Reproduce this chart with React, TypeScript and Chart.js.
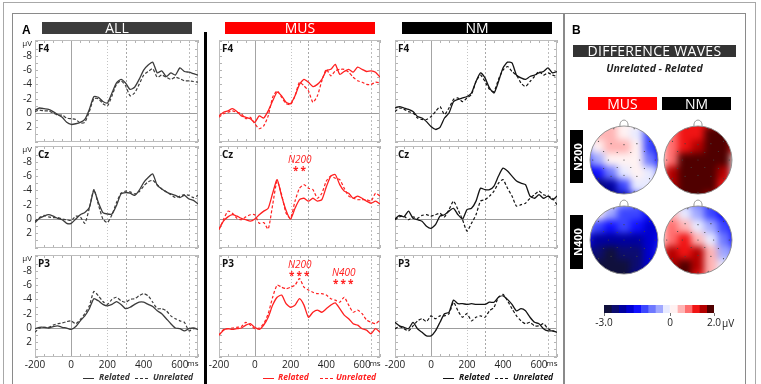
import React, { useEffect, useRef } from "react";
import { Chart, registerables } from "chart.js";
Chart.register(...registerables);

const FONT = "'Open Sans', 'DejaVu Sans', sans-serif";

// ---------- DATA ----------
const timeMs = [-200, -175, -150, -125, -100, -75, -50, -25, 0, 25, 50, 75, 100, 125, 150, 175, 200, 225, 250, 275, 300, 325, 350, 375, 400, 425, 450, 475, 500, 525, 550, 575, 600, 625, 650, 675, 700];

const allF4Related = [-0.4, -0.7, -0.6, -0.5, -0.2, 0.2, 0.6, 1.3, 1.6, 1.5, 1.3, 0.9, -0.5, -2.3, -2.2, -1.6, -1.4, -2.8, -4.2, -4.7, -4.2, -3.3, -3.6, -4.7, -6.0, -6.7, -7.1, -5.6, -5.9, -5.1, -5.6, -5.3, -6.3, -5.8, -5.7, -5.5, -5.3];
const allF4Unrelated = [-0.2, -0.4, -0.3, -0.3, 0, 0.3, 0.3, 0.7, 0.8, 0.9, 1.4, 1.3, -0.2, -2.0, -2.0, -1.3, -1.0, -2.4, -4.0, -4.5, -3.8, -2.4, -2.8, -4.0, -5.3, -5.8, -6.2, -5.0, -5.3, -5.0, -4.7, -5.0, -4.8, -4.5, -4.5, -4.4, -4.3];
const allCzRelated = [0.5, -0.1, -0.4, -0.6, -0.4, -0.1, 0.1, 0.6, 0.6, 0, -0.6, -0.9, -1.6, -4.0, -2.3, -0.9, -0.7, -0.7, -1.9, -3.5, -3.7, -3.6, -3.3, -4.0, -5.1, -5.8, -6.3, -4.7, -4.2, -3.8, -3.5, -3.3, -3.0, -3.3, -2.8, -2.6, -2.1];
const allCzUnrelated = [0.3, -0.2, -0.5, -0.3, -0.2, -0.2, 0, 0.1, 0.2, -0.4, -0.3, 0.6, -1.5, -4.1, -2.0, 0.0, 0.5, -0.6, -2.3, -3.6, -3.9, -3.8, -3.5, -3.8, -4.6, -5.2, -5.4, -4.8, -4.2, -3.8, -3.4, -3.0, -3.2, -3.4, -3.3, -3.0, -3.3];
const allP3Related = [0.1, -0.1, -0.1, 0, -0.2, -0.3, -0.1, 0, 0.2, -0.2, -1.0, -1.7, -2.7, -4.1, -3.8, -3.3, -3.1, -3.3, -3.7, -3.3, -2.7, -2.9, -3.3, -3.6, -3.6, -3.3, -3.0, -2.4, -2.0, -1.3, -0.6, 0, 0.1, 0.4, 0.1, 0, 0.2];
const allP3Unrelated = [0.6, 0, -0.1, -0.1, -0.4, -0.6, -0.7, -0.9, -1.0, -0.6, -1.2, -2.0, -3.1, -5.1, -4.5, -3.7, -3.3, -4.0, -4.3, -3.8, -3.6, -4.0, -4.1, -4.5, -4.8, -4.5, -3.6, -2.7, -2.7, -2.4, -1.7, -1.3, -1.0, -0.8, 0.4, 0.1, 0];

const musF4Related = [0.4, -0.1, -0.3, -0.6, -0.2, 0.4, 0.6, 0.8, 1.3, 0.4, 0.7, -0.3, -1.7, -2.9, -2.4, -1.5, -1.3, -2.4, -4.0, -4.7, -4.3, -3.7, -4.0, -4.7, -5.9, -6.1, -6.8, -5.4, -5.8, -6.1, -5.7, -6.4, -6.1, -5.8, -5.9, -5.7, -5.0];
const musF4Unrelated = [0.6, 0.1, -0.1, -0.3, -0.1, 0.1, 0.8, 0.6, 1.5, 2.2, 1.8, 0.4, -2.2, -3.1, -2.2, -1.3, -1.2, -2.4, -4.3, -3.8, -3.1, -1.5, -2.4, -4.5, -6.1, -5.2, -5.9, -6.1, -6.1, -5.7, -5.0, -4.5, -4.3, -4.0, -4.0, -4.3, -4.2];
const musCzRelated = [1.4, 0.3, -0.3, -0.6, -0.4, -0.1, 0.1, 0.3, 0, -0.6, -1.1, -1.5, -3.6, -5.5, -3.2, -1.2, 0, -1.5, -2.7, -2.9, -2.5, -2.9, -2.5, -2.7, -4.5, -6.0, -6.2, -4.8, -3.9, -3.6, -2.9, -3.2, -2.9, -2.5, -2.2, -2.5, -2.1];
const musCzUnrelated = [1.5, 0.1, -1.1, -0.8, -0.1, 0.1, -0.3, -0.6, -0.6, 0.6, 0.5, 1.4, -2.0, -5.3, -3.4, -0.8, -0.1, -2.5, -4.3, -4.8, -4.3, -4.1, -2.9, -3.6, -5.3, -6.0, -5.7, -5.5, -4.3, -3.2, -2.9, -2.7, -2.7, -2.7, -2.5, -3.6, -3.2];
const musP3Related = [1.0, 0.3, 0.1, 0.2, 0.1, 0, -0.4, -0.6, -0.1, 0.2, -0.4, -1.5, -3.2, -4.3, -4.6, -3.4, -2.9, -3.2, -4.1, -3.2, -1.5, -2.2, -2.5, -2.2, -2.7, -3.2, -3.5, -2.7, -1.8, -1.3, -0.6, -0.4, 0.1, 0.3, 0.8, 0.1, 0.6];
const musP3Unrelated = [1.0, 0.2, 0.1, 0, -0.1, -0.2, -0.8, -0.4, 0.1, 0, -0.6, -2.0, -4.3, -6.0, -5.7, -5.5, -5.7, -6.0, -6.9, -5.7, -5.3, -5.0, -4.8, -4.8, -4.6, -4.1, -3.9, -3.6, -4.3, -3.2, -2.2, -2.5, -2.0, -1.1, -0.8, -0.6, -1.1];

const nmF4Related = [-0.7, -0.9, -0.7, -0.5, -0.2, 0.5, 0.7, 1.2, 1.9, 2.3, 2.0, 0.7, 0, -1.6, -1.9, -2.1, -2.3, -2.8, -4.4, -5.6, -4.9, -3.5, -2.8, -4.4, -6.3, -7.1, -7.0, -5.3, -4.9, -4.7, -5.1, -5.3, -5.6, -5.8, -6.3, -5.6, -5.8];
const nmF4Unrelated = [-0.2, -0.7, -0.5, -0.2, 0, 0.7, 0.9, 0.9, 0.5, -0.2, -0.9, 0.2, -0.7, -1.9, -2.1, -1.6, -2.1, -2.6, -4.4, -5.3, -4.4, -3.3, -3.0, -4.7, -6.0, -6.5, -5.8, -5.3, -4.2, -3.7, -4.4, -5.1, -5.8, -5.3, -5.6, -5.3, -5.1];
const nmCzRelated = [0, -0.5, -0.3, -1.1, -0.1, 0.1, 0.3, 1.0, 1.3, 0.8, -0.4, -0.6, -1.1, -1.5, -0.6, 0, -1.3, -1.5, -2.5, -4.3, -4.1, -4.1, -4.6, -6.0, -7.1, -6.7, -6.0, -5.3, -5.0, -4.8, -3.2, -2.9, -3.4, -2.9, -3.2, -2.7, -3.2];
const nmCzUnrelated = [0.1, -0.3, -0.4, 0.1, -0.3, -0.1, -0.5, -0.6, -0.4, -0.6, -0.8, -0.3, -1.3, -2.5, -1.3, 0.1, 1.7, 0.6, -0.6, -2.5, -2.7, -3.2, -3.9, -5.0, -5.5, -4.3, -3.2, -1.8, -2.0, -2.2, -2.9, -3.4, -3.9, -3.4, -3.2, -2.9, -2.0];
const nmP3Related = [-0.8, -0.3, -0.1, 0.1, -0.8, 0.1, 0.6, 1.1, 1.1, 0.4, -0.8, -2.0, -2.2, -3.9, -3.4, -3.4, -3.3, -3.4, -3.3, -3.3, -3.3, -3.6, -3.6, -4.3, -4.5, -4.0, -3.3, -2.4, -2.7, -2.4, -1.5, -0.8, -0.6, 0.1, 0.4, 0.4, 0.6];
const nmP3Unrelated = [0.1, -0.2, 0.1, 0.4, -0.3, -1.0, -1.3, -0.9, -1.7, -1.3, -1.7, -1.7, -2.0, -3.6, -2.4, -1.5, -2.0, -1.0, -1.5, -1.7, -1.5, -2.4, -2.9, -4.3, -4.7, -3.8, -2.7, -1.7, -1.0, -0.6, -0.8, -0.3, -0.3, -0.6, 0.1, 0.4, 0.6];

const xTickValues = [-200, 0, 200, 400, 600];
const msUnitAt = 672;
const yTickValues = [-8, -6, -4, -2, 0, 2];
const uvUnitAt = -9.7;
const refLinesMs = [0, 200, 300, 650];

// topographic maps (µV, rows from front to back, columns left to right)
const mapMusN200 = [
  [0.2, 0.3, 0.4, 0.3, 0.1, -0.5, -0.8],
  [0.1, 0.4, 0.5, 0.3, 0.0, -1.0, -1.5],
  [-0.4, 0.1, 0.5, 0.4, 0.1, -1.2, -1.8],
  [-1.0, -0.6, 0.1, 0.3, 0.2, -0.8, -1.4],
  [-1.8, -1.6, -0.9, 0.0, 0.2, -0.2, -0.8],
  [-2.4, -2.4, -2.0, -1.0, -0.2, -0.3, -0.6],
  [-2.8, -2.8, -2.6, -2.0, -1.2, -0.6, -0.6],
];
const mapNmN200 = [
  [0.8, 1.0, 1.1, 1.2, 1.3, 1.5, 1.4],
  [0.6, 1.0, 1.2, 1.3, 1.7, 1.9, 1.6],
  [0.3, 0.9, 1.3, 1.5, 1.8, 1.9, 1.2],
  [0.1, 1.0, 1.8, 1.9, 1.9, 1.7, 0.3],
  [0.5, 1.4, 1.9, 2.0, 1.9, 1.4, -0.2],
  [1.0, 1.6, 1.9, 1.9, 1.8, 1.2, 0.4],
  [1.2, 1.6, 1.8, 1.8, 1.5, 1.0, 0.6],
];
const mapMusN400 = [
  [1.2, 1.0, 0.3, -0.5, -0.8, -1.0, -1.2],
  [0.6, 0.2, -0.6, -1.2, -1.0, -1.4, -1.6],
  [-0.6, -1.2, -1.4, -1.0, -1.6, -1.8, -1.8],
  [-1.6, -2.0, -2.2, -2.0, -2.2, -1.8, -1.4],
  [-2.2, -2.6, -2.8, -2.6, -2.4, -1.8, -1.2],
  [-2.6, -2.9, -3.0, -2.8, -2.4, -1.8, -1.2],
  [-2.6, -2.9, -3.0, -2.8, -2.2, -1.6, -1.0],
];
const mapNmN400 = [
  [0.4, 0.2, -0.4, -0.8, -1.0, -1.2, -1.2],
  [0.6, 0.4, 0.0, -0.6, -1.2, -1.4, -1.4],
  [0.3, 0.8, 0.6, -0.3, -0.4, -1.2, -1.6],
  [0.2, 1.0, 1.2, 0.6, 0.0, -0.8, -1.4],
  [0.8, 1.4, 1.2, 1.6, 0.4, -0.4, -0.8],
  [1.4, 1.6, 1.7, 1.4, 0.6, -0.2, -0.6],
  [1.6, 1.8, 1.7, 1.2, 0.4, -0.2, -0.4],
];
const electrodes = [
  [-0.3, 0.92], [0.3, 0.92], [-0.75, 0.55], [-0.38, 0.48], [0, 0.45], [0.38, 0.48], [0.75, 0.55],
  [-0.6, 0.25], [-0.2, 0.22], [0.2, 0.22], [0.6, 0.25], [-0.92, 0], [-0.46, 0], [0, 0], [0.46, 0], [0.92, 0],
  [-0.6, -0.25], [-0.2, -0.22], [0.2, -0.22], [0.6, -0.25], [-0.75, -0.55], [-0.38, -0.48], [0, -0.45],
  [0.38, -0.48], [0.75, -0.55], [-0.3, -0.92], [0, -0.95], [0.3, -0.92],
];

const colorbarLevels = [-3, -2.667, -2.333, -2, -1.667, -1.333, -1, -0.667, -0.333, 0, 0.333, 0.667, 1, 1.333, 1.667, 2];
const colorbarColors = ["#10103c", "#0c0c70", "#0000a0", "#0000d2", "#1010ff", "#3c46ff", "#6e78ff", "#a0a8ff", "#e8eaff", "#fff2f2", "#ffb4b4", "#ff6e6e", "#f01414", "#b40000", "#500000"];
const colorbarTickValues = [-3, 0, 2];
const colorbarTickLabels = ["-3.0", "0", "2.0"];

// ---------- HELPERS ----------
function colorFor(v: number) {
  let i = 0;
  while (i < colorbarColors.length - 1 && v > colorbarLevels[i + 1]) i++;
  return colorbarColors[i];
}

const PAD_L = 34, PAD_T = 10, PAD_R = 20, PAD_B = 22;
const refLineStyles = [
  { color: "#a4a4a4", dash: [] as number[] },
  { color: "#c4c4c4", dash: [1, 2] },
  { color: "#a8a8a8", dash: [2, 2] },
  { color: "#bcbcbc", dash: [2, 2] },
];

function ErpPanel(props: any) {
  const { boxL, boxT, boxW, boxH, rel, unrel, color, showY, showX } = props;
  const ref = useRef<HTMLCanvasElement>(null);
  const W = boxW + PAD_L + PAD_R;
  const H = boxH + PAD_T + PAD_B;
  useEffect(() => {
    const decor = {
      id: "decor",
      beforeDatasetsDraw(chart: any) {
        const { ctx, chartArea: a, scales } = chart;
        const xs = scales.x, ys = scales.y;
        ctx.save();
        ctx.lineWidth = 1;
        ctx.strokeStyle = "#b4b4b4";
        ctx.beginPath();
        for (let t = -200; t <= 700; t += 50) {
          const px = Math.round(xs.getPixelForValue(t)) + 0.5;
          ctx.moveTo(px, a.top); ctx.lineTo(px, a.top + 3);
          ctx.moveTo(px, a.bottom); ctx.lineTo(px, a.bottom - 3);
        }
        for (let v = -10; v <= 4; v += 1) {
          const py = Math.round(ys.getPixelForValue(v)) + 0.5;
          ctx.moveTo(a.left, py); ctx.lineTo(a.left + 3, py);
          ctx.moveTo(a.right, py); ctx.lineTo(a.right - 3, py);
        }
        ctx.stroke();
        refLinesMs.forEach((t, i) => {
          const st = refLineStyles[i];
          ctx.strokeStyle = st.color;
          ctx.setLineDash(st.dash);
          const px = Math.round(xs.getPixelForValue(t)) + 0.5;
          ctx.beginPath(); ctx.moveTo(px, a.top); ctx.lineTo(px, a.bottom); ctx.stroke();
        });
        ctx.setLineDash([]);
        ctx.strokeStyle = "#9c9c9c";
        const zy = Math.round(ys.getPixelForValue(0)) + 0.5;
        ctx.beginPath(); ctx.moveTo(a.left, zy); ctx.lineTo(a.right, zy); ctx.stroke();
        ctx.strokeStyle = "#bdbdbd";
        ctx.strokeRect(Math.round(a.left) + 0.5, Math.round(a.top) + 0.5, Math.round(a.right - a.left) - 1, Math.round(a.bottom - a.top) - 1);
        ctx.restore();
      },
    };
    const chart = new Chart(ref.current as HTMLCanvasElement, {
      type: "line",
      data: {
        datasets: [
          { label: "Related", data: timeMs.map((t, i) => ({ x: t, y: rel[i] })), borderColor: color, borderWidth: 1.3, pointRadius: 0, tension: 0.2, fill: false },
          { label: "Unrelated", data: timeMs.map((t, i) => ({ x: t, y: unrel[i] })), borderColor: color, borderWidth: 1.2, borderDash: [3, 2], pointRadius: 0, tension: 0.2, fill: false },
        ],
      },
      options: {
        animation: false,
        responsive: false,
        maintainAspectRatio: false,
        layout: { padding: { left: 0, top: PAD_T, right: PAD_R, bottom: 0 } },
        plugins: { legend: { display: false }, tooltip: { enabled: false } },
        scales: {
          x: {
            type: "linear", min: -200, max: 700,
            grid: { display: false, drawTicks: false }, border: { display: false },
            afterBuildTicks: (s: any) => { s.ticks = [...xTickValues, msUnitAt].map((v) => ({ value: v })); },
            afterFit: (s: any) => { s.height = PAD_B; },
            ticks: {
              display: showX, autoSkip: false, maxRotation: 0, padding: 2, color: "#222",
              font: (c: any) => ({ size: c.tick && c.tick.value === msUnitAt ? 8 : 10, family: FONT }),
              callback: (v: any) => (v === msUnitAt ? "ms" : String(v)),
            },
          },
          y: {
            type: "linear", reverse: true, min: -10.2, max: 4.05,
            grid: { display: false, drawTicks: false }, border: { display: false },
            afterBuildTicks: (s: any) => { s.ticks = [uvUnitAt, ...yTickValues].map((v) => ({ value: v })); },
            afterFit: (s: any) => { s.width = PAD_L; },
            ticks: {
              display: showY, autoSkip: false, padding: 3, color: "#222",
              font: (c: any) => ({ size: c.tick && c.tick.value === uvUnitAt ? 8 : 10, family: FONT }),
              callback: (v: any) => (v === uvUnitAt ? "µV" : String(v)),
            },
          },
        },
      } as any,
      plugins: [decor],
    });
    return () => chart.destroy();
  }, []);
  return <canvas ref={ref} width={W} height={H} style={{ position: "absolute", left: boxL - PAD_L, top: boxT - PAD_T, width: W, height: H }} />;
}

const TOPO_SIZE = 100;
const TOPO_R = 34;

function Topomap(props: any) {
  const { cx, cy, grid } = props;
  const ref = useRef<HTMLCanvasElement>(null);
  useEffect(() => {
    const n = grid.length;
    const span = 1.35;
    const pts: any[] = [];
    grid.forEach((row: number[], r: number) =>
      row.forEach((v: number, c: number) => pts.push({ x: -span + ((2 * c + 1) * span) / n, y: span - ((2 * r + 1) * span) / n, v }))
    );
    const cellPx = ((2 * span) / n) * TOPO_R;
    const heat = {
      id: "heat",
      afterDatasetDraw(chart: any, args: any) {
        if (args.index !== 0) return;
        const { ctx, chartArea: a, canvas } = chart;
        const x0 = (a.left + a.right) / 2, y0 = (a.top + a.bottom) / 2, r = (a.right - a.left) / 2;
        const tmp = document.createElement("canvas");
        tmp.width = canvas.width; tmp.height = canvas.height;
        const t = tmp.getContext("2d") as CanvasRenderingContext2D;
        t.filter = "blur(3.5px)";
        t.drawImage(canvas, 0, 0);
        ctx.save();
        ctx.setTransform(1, 0, 0, 1, 0, 0);
        ctx.clearRect(0, 0, canvas.width, canvas.height);
        ctx.beginPath(); ctx.arc(x0, y0, r, 0, Math.PI * 2); ctx.clip();
        ctx.drawImage(tmp, 0, 0);
        ctx.restore();
      },
      afterDatasetsDraw(chart: any) {
        const { ctx, chartArea: a } = chart;
        const x0 = (a.left + a.right) / 2, y0 = (a.top + a.bottom) / 2, r = (a.right - a.left) / 2;
        ctx.save();
        ctx.strokeStyle = "#8a8a8a"; ctx.lineWidth = 0.9;
        ctx.beginPath(); ctx.arc(x0, y0, r, 0, Math.PI * 2); ctx.stroke();
        ctx.beginPath();
        ctx.moveTo(x0 - 4, a.top + 0.5);
        ctx.bezierCurveTo(x0 - 5, a.top - 8, x0 + 5, a.top - 8, x0 + 4, a.top + 0.5);
        ctx.stroke();
        ctx.restore();
      },
    };
    const pad = (TOPO_SIZE - 2 * TOPO_R) / 2;
    const chart = new Chart(ref.current as HTMLCanvasElement, {
      type: "scatter",
      data: {
        datasets: [
          {
            data: pts, order: 1, clip: false,
            pointStyle: "rect", pointRadius: cellPx / Math.SQRT2 + 0.6, pointBorderWidth: 0,
            pointBackgroundColor: (c: any) => (c.raw ? colorFor(c.raw.v) : "#fff"),
          },
          {
            data: electrodes.map((e) => ({ x: e[0], y: e[1] })), order: 0,
            pointRadius: 0.6, pointBorderWidth: 0, pointBackgroundColor: "#444",
          },
        ],
      },
      options: {
        animation: false, responsive: false, maintainAspectRatio: false,
        layout: { padding: pad },
        plugins: { legend: { display: false }, tooltip: { enabled: false } },
        scales: { x: { display: false, min: -1, max: 1 }, y: { display: false, min: -1, max: 1 } },
      } as any,
      plugins: [heat],
    });
    return () => chart.destroy();
  }, []);
  return <canvas ref={ref} width={TOPO_SIZE} height={TOPO_SIZE} style={{ position: "absolute", left: cx - TOPO_SIZE / 2, top: cy - TOPO_SIZE / 2, width: TOPO_SIZE, height: TOPO_SIZE }} />;
}

function Colorbar() {
  const ref = useRef<HTMLCanvasElement>(null);
  const W = 150, H = 30;
  useEffect(() => {
    const chart = new Chart(ref.current as HTMLCanvasElement, {
      type: "bar",
      data: {
        labels: ["µV"],
        datasets: colorbarColors.map((c, i) => ({
          data: [[colorbarLevels[i], colorbarLevels[i + 1]]] as any,
          backgroundColor: c, borderWidth: 0, grouped: false, barPercentage: 1, categoryPercentage: 1,
        })),
      },
      options: {
        indexAxis: "y",
        animation: false, responsive: false, maintainAspectRatio: false,
        layout: { padding: { left: 14, right: 26, top: 4, bottom: 0 } },
        plugins: { legend: { display: false }, tooltip: { enabled: false } },
        scales: {
          x: {
            type: "linear", min: -3, max: 2,
            grid: { display: true, drawOnChartArea: false, drawTicks: true, tickLength: 3, color: "#777" },
            border: { display: false },
            afterBuildTicks: (s: any) => { s.ticks = colorbarTickValues.map((v) => ({ value: v })); },
            afterFit: (s: any) => { s.height = 18; },
            ticks: {
              autoSkip: false, maxRotation: 0, padding: 1, color: "#222", font: { size: 10, family: FONT },
              callback: (v: any) => colorbarTickLabels[colorbarTickValues.indexOf(v)],
            },
          },
          y: { display: false },
        },
      } as any,
    });
    return () => chart.destroy();
  }, []);
  return <canvas ref={ref} width={W} height={H} style={{ position: "absolute", left: 590, top: 301, width: W, height: H }} />;
}

function Box(p: any) {
  return <div style={{ position: "absolute", left: p.x, top: p.y, width: p.w, height: p.h, boxSizing: "border-box", border: `1px solid ${p.c}` }} />;
}

function Bar(p: any) {
  return (
    <div style={{ position: "absolute", left: p.x, top: p.y, width: p.w, height: p.h, background: p.bg, color: "#fff", fontSize: p.fs, lineHeight: p.h + "px", textAlign: "center", fontFamily: FONT, letterSpacing: p.ls || 0, whiteSpace: "nowrap" }}>
      {p.text}
    </div>
  );
}

function Txt(p: any) {
  return (
    <div style={{ position: "absolute", left: p.x, top: p.y, whiteSpace: "nowrap", fontFamily: FONT, lineHeight: 1, ...(p.s || {}) }}>
      {p.children}
    </div>
  );
}

function Legend(p: any) {
  const ts = { fontSize: 8.5, fontWeight: 700, fontStyle: "italic", color: p.color };
  return (
    <>
      <div style={{ position: "absolute", left: p.x1, top: 378, width: 11, borderTop: `1.4px solid ${p.color}` }} />
      <Txt x={p.t1} y={373} s={ts}>Related</Txt>
      <div style={{ position: "absolute", left: p.x2, top: 378, width: 13, borderTop: `1.4px dashed ${p.color}` }} />
      <Txt x={p.t2} y={373} s={ts}>Unrelated</Txt>
    </>
  );
}

const colL = [35, 219, 395];
const colW = [163, 161, 162];
const rowT = [40, 146, 255];
const BOX_H = 102;
const colColors = ["#3c3c3c", "#ff2020", "#141414"];
const stations = ["F4", "Cz", "P3"];
const series = [
  [[allF4Related, allF4Unrelated], [allCzRelated, allCzUnrelated], [allP3Related, allP3Unrelated]],
  [[musF4Related, musF4Unrelated], [musCzRelated, musCzUnrelated], [musP3Related, musP3Unrelated]],
  [[nmF4Related, nmF4Unrelated], [nmCzRelated, nmCzUnrelated], [nmP3Related, nmP3Unrelated]],
];

export default function App() {
  useEffect(() => { document.body.style.margin = "0"; }, []);
  const red = "#ff2020";
  return (
    <div style={{ position: "fixed", left: 0, top: 0, width: 761, height: 384, overflow: "hidden", background: "#fff", fontFamily: FONT }}>
      <Box x={3} y={2} w={753} h={420} c="#a8a8a8" />
      <Box x={12} y={13} w={552} h={420} c="#8a8a8a" />
      <Box x={564} y={13} w={182} h={420} c="#8a8a8a" />

      {series.map((col, ci) =>
        col.map((pair, ri) => (
          <ErpPanel key={ci + "-" + ri} boxL={colL[ci]} boxT={rowT[ri]} boxW={colW[ci]} boxH={BOX_H}
            rel={pair[0]} unrel={pair[1]} color={colColors[ci]} showY={ci === 0} showX={ri === 2} />
        ))
      )}
      {colL.map((l, ci) =>
        stations.map((s, ri) => (
          <Txt key={"s" + ci + ri} x={l + 3} y={rowT[ri] + 3} s={{ fontSize: 10, fontWeight: 700, color: "#111" }}>{s}</Txt>
        ))
      )}

      <Txt x={22} y={24} s={{ fontSize: 12, fontWeight: 700, fontFamily: "Arial, 'Liberation Sans', sans-serif" }}>A</Txt>
      <Bar x={42} y={22} w={150} h={12} bg="#3d3d3d" text="ALL" fs={14} />
      <Bar x={225} y={22} w={150} h={12} bg="#ff0000" text="MUS" fs={14} />
      <Bar x={402} y={22} w={150} h={12} bg="#000" text="NM" fs={14} />
      <div style={{ position: "absolute", left: 204, top: 32, width: 3, height: 360, background: "#000" }} />

      <Txt x={288} y={154} s={{ fontSize: 10, fontStyle: "italic", color: red }}>N200</Txt>
      <Txt x={293} y={165} s={{ fontSize: 10, fontWeight: 700, color: red, letterSpacing: 2 }}>**</Txt>
      <Txt x={288} y={259} s={{ fontSize: 10, fontStyle: "italic", color: red }}>N200</Txt>
      <Txt x={289} y={270} s={{ fontSize: 10, fontWeight: 700, color: red, letterSpacing: 2 }}>***</Txt>
      <Txt x={332} y={267} s={{ fontSize: 10, fontStyle: "italic", color: red }}>N400</Txt>
      <Txt x={333} y={278} s={{ fontSize: 10, fontWeight: 700, color: red, letterSpacing: 2 }}>***</Txt>

      <Legend color="#333" x1={83} t1={99} x2={135} t2={153} />
      <Legend color={red} x1={263} t1={278} x2={320} t2={336} />
      <Legend color="#111" x1={443} t1={459} x2={495} t2={513} />

      <Txt x={572} y={24} s={{ fontSize: 12, fontWeight: 700, fontFamily: "Arial, 'Liberation Sans', sans-serif" }}>B</Txt>
      <Bar x={573} y={45} w={163} h={12} bg="#333" text="DIFFERENCE WAVES" fs={14} ls={0.3} />
      <div style={{ position: "absolute", left: 573, top: 63, width: 163, textAlign: "center", fontFamily: FONT, fontSize: 10.5, fontWeight: 700, fontStyle: "italic", color: "#222", lineHeight: 1 }}>
        Unrelated - Related
      </div>
      <Bar x={588} y={97} w={69} h={13} bg="#ff0000" text="MUS" fs={14} />
      <Bar x={662} y={97} w={69} h={13} bg="#000" text="NM" fs={14} />

      <div style={{ position: "absolute", left: 570, top: 130, width: 13, height: 53, background: "#000" }}>
        <div style={{ position: "absolute", left: 6.5, top: 26.5, transform: "translate(-50%,-50%) rotate(-90deg)", color: "#fff", fontSize: 11, fontWeight: 700, fontFamily: FONT, whiteSpace: "nowrap", lineHeight: 1 }}>N200</div>
      </div>
      <div style={{ position: "absolute", left: 570, top: 215, width: 13, height: 54, background: "#000" }}>
        <div style={{ position: "absolute", left: 6.5, top: 27, transform: "translate(-50%,-50%) rotate(-90deg)", color: "#fff", fontSize: 11, fontWeight: 700, fontFamily: FONT, whiteSpace: "nowrap", lineHeight: 1 }}>N400</div>
      </div>

      <Topomap cx={624} cy={160} grid={mapMusN200} />
      <Topomap cx={698} cy={160} grid={mapNmN200} />
      <Topomap cx={624} cy={240} grid={mapMusN400} />
      <Topomap cx={698} cy={240} grid={mapNmN400} />

      <Colorbar />
      <Txt x={722} y={318} s={{ fontSize: 10, color: "#222" }}>µV</Txt>
    </div>
  );
}
